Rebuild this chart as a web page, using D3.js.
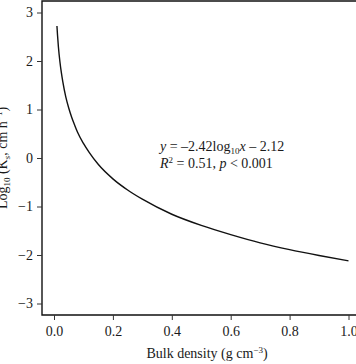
<!DOCTYPE html>
<html><head><meta charset="utf-8">
<script src="https://cdn.jsdelivr.net/npm/d3@7"></script>
<style>body{margin:0;background:#fff}svg{display:block}text{font-family:"Liberation Serif","Times New Roman",serif;fill:#1a1a1a}</style>
</head><body>
<script>
const bulkDensity = [0.01,0.012,0.015,0.02,0.025,0.03,0.04,0.05,0.06,0.07,0.08,0.1,0.12,0.15,0.2,0.25,0.3,0.4,0.5,0.6,0.7,0.8,0.9,1.0];
const logKs = [2.72,2.53,2.29,1.99,1.76,1.57,1.26,1.03,0.84,0.68,0.53,0.30,0.11,-0.13,-0.43,-0.66,-0.85,-1.16,-1.39,-1.58,-1.75,-1.89,-2.01,-2.12];
const xTicks = [0,0.2,0.4,0.6,0.8,1.0];
const yTicks = [-3,-2,-1,0,1,2,3];

const W=356,H=364;
const svg=d3.select("body").append("svg").attr("width",W).attr("height",H);
const x=d3.scaleLinear().domain([0,1]).range([54,348.5]);
const y=d3.scaleLinear().domain([-3,3]).range([303.5,12.5]);
const L=42,T=1,B=315;
const serif="'Liberation Serif','Times New Roman',serif";

svg.append("path").attr("d",`M${W+5},${T}H${L}V${B}H${W+5}`).attr("fill","none").attr("stroke","#111").attr("stroke-width",1.4);

const xa=svg.append("g").attr("transform",`translate(0,${B})`)
 .call(d3.axisBottom(x).tickValues(xTicks).tickFormat(d3.format(".1f")).tickSize(5).tickPadding(6));
xa.select(".domain").remove();
const ya=svg.append("g").attr("transform",`translate(${L},0)`)
 .call(d3.axisLeft(y).tickValues(yTicks).tickFormat(d=>d<0?"\u2212"+Math.abs(d):d).tickSize(5).tickPadding(4));
ya.select(".domain").remove();
[xa,ya].forEach(g=>g.attr("font-family",serif).attr("font-size",14));
svg.selectAll(".tick line").attr("stroke","#333");
svg.selectAll(".tick text").attr("font-family",serif).attr("font-size",14).attr("fill","#333");

const line=d3.line().x((d,i)=>x(bulkDensity[i])).y(d=>y(d)).curve(d3.curveMonotoneX);
svg.append("path").datum(logKs).attr("d",line).attr("fill","none").attr("stroke","#111").attr("stroke-width",1.4);

const xl=svg.append("text").attr("x",207).attr("y",358).attr("text-anchor","middle").attr("font-size",14);
xl.append("tspan").text("Bulk density (g cm");
xl.append("tspan").attr("font-size",9).attr("dy",-5).text("\u22123");
xl.append("tspan").attr("dy",5).text(")");

const yl=svg.append("text").attr("transform","translate(7,158) rotate(-90)").attr("text-anchor","middle").attr("font-size",14);
yl.append("tspan").text("Log");
yl.append("tspan").attr("font-size",9).attr("dy",3).text("10");
yl.append("tspan").attr("dy",-3).text(" (K");
yl.append("tspan").attr("font-size",9).attr("dy",3).attr("font-style","italic").text("s");
yl.append("tspan").attr("dy",-3).text(", cm h");
yl.append("tspan").attr("font-size",9).attr("dy",-5).text("\u22121");
yl.append("tspan").attr("dy",5).text(")");

const e1=svg.append("text").attr("x",160).attr("y",151).attr("font-size",14);
e1.append("tspan").attr("font-style","italic").text("y");
e1.append("tspan").text(" = \u20132.42log");
e1.append("tspan").attr("font-size",9).attr("dy",3).text("10");
e1.append("tspan").attr("dy",-3).attr("font-style","italic").text("x");
e1.append("tspan").text(" \u2013 2.12");
const e2=svg.append("text").attr("x",160).attr("y",168).attr("font-size",14);
e2.append("tspan").attr("font-style","italic").text("R");
e2.append("tspan").attr("font-size",9).attr("dy",-5).text("2");
e2.append("tspan").attr("dy",5).text(" = 0.51, ");
e2.append("tspan").attr("font-style","italic").text("p");
e2.append("tspan").text(" < 0.001");
</script>
</body></html>
